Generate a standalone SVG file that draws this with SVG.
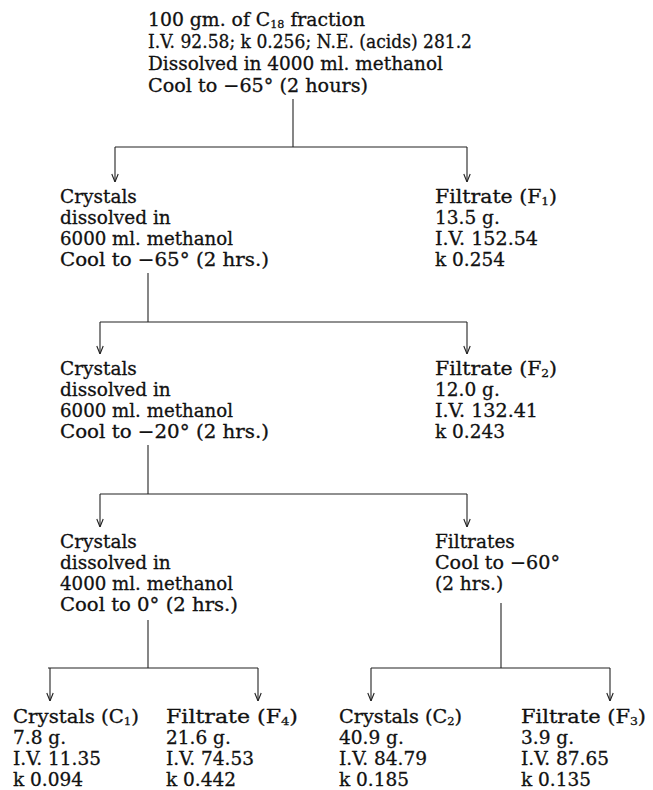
<svg xmlns="http://www.w3.org/2000/svg" width="653" height="790" viewBox="0 0 653 790">
<style>
text{font-family:"DejaVu Serif","Liberation Serif",serif;font-size:18.5px;fill:#111;stroke:#111;stroke-width:0.3}
.sub{font-size:11px}
.ln{stroke:#222;stroke-width:1.1;fill:none}
.ar{stroke:#222;stroke-width:1.1;fill:none;marker-end:url(#ah)}
</style>
<defs>
<marker id="ah" viewBox="0 0 10 10" refX="10" refY="5" markerWidth="10" markerHeight="10" markerUnits="userSpaceOnUse" orient="auto">
<path d="M2,1.8 L10,5 L2,8.2" fill="none" stroke="#222" stroke-width="1.1"/>
</marker>
</defs>
<rect width="653" height="790" fill="#fff"/>
<g id="connectors">
<line class="ln" x1="293" y1="99" x2="293" y2="147"/>
<line class="ln" x1="115" y1="147" x2="467" y2="147"/>
<line class="ar" x1="115" y1="147" x2="115" y2="182"/>
<line class="ar" x1="467" y1="147" x2="467" y2="182"/>
<line class="ln" x1="148" y1="273" x2="148" y2="322"/>
<line class="ln" x1="100" y1="322" x2="467" y2="322"/>
<line class="ar" x1="100" y1="322" x2="100" y2="354"/>
<line class="ar" x1="467" y1="322" x2="467" y2="354"/>
<line class="ln" x1="148" y1="445" x2="148" y2="494"/>
<line class="ln" x1="100" y1="494" x2="467" y2="494"/>
<line class="ar" x1="100" y1="494" x2="100" y2="527"/>
<line class="ar" x1="467" y1="494" x2="467" y2="527"/>
<line class="ln" x1="148" y1="620" x2="148" y2="668"/>
<line class="ln" x1="48" y1="668" x2="258" y2="668"/>
<line class="ar" x1="50" y1="668" x2="50" y2="701"/>
<line class="ar" x1="258" y1="668" x2="258" y2="701"/>
<line class="ln" x1="501" y1="603" x2="501" y2="668"/>
<line class="ln" x1="371" y1="668" x2="610" y2="668"/>
<line class="ar" x1="371" y1="668" x2="371" y2="701"/>
<line class="ar" x1="610" y1="668" x2="610" y2="701"/>
</g>
<g id="n-start">
<text x="148" y="26" textLength="217" lengthAdjust="spacingAndGlyphs">100 gm. of C<tspan class="sub" dy="2">18</tspan><tspan dy="-2"> fraction</tspan></text>
<text x="148" y="48" textLength="324" lengthAdjust="spacingAndGlyphs">I.V. 92.58; k 0.256; N.E. (acids) 281.2</text>
<text x="148" y="70" textLength="295" lengthAdjust="spacingAndGlyphs">Dissolved in 4000 ml. methanol</text>
<text x="148" y="92" textLength="220" lengthAdjust="spacingAndGlyphs">Cool to −65° (2 hours)</text>
</g>
<g id="n-crystals1">
<text x="60" y="203">Crystals</text>
<text x="60" y="224">dissolved in</text>
<text x="60" y="245" textLength="173" lengthAdjust="spacingAndGlyphs">6000 ml. methanol</text>
<text x="60" y="266" textLength="209" lengthAdjust="spacingAndGlyphs">Cool to −65° (2 hrs.)</text>
</g>
<g id="n-f1">
<text x="435" y="203" textLength="122" lengthAdjust="spacingAndGlyphs">Filtrate (F<tspan class="sub" dy="2">1</tspan><tspan dy="-2">)</tspan></text>
<text x="435" y="224">13.5 g.</text>
<text x="435" y="245" textLength="103" lengthAdjust="spacingAndGlyphs">I.V. 152.54</text>
<text x="435" y="266">k 0.254</text>
</g>
<g id="n-crystals2">
<text x="60" y="375">Crystals</text>
<text x="60" y="396">dissolved in</text>
<text x="60" y="417" textLength="173" lengthAdjust="spacingAndGlyphs">6000 ml. methanol</text>
<text x="60" y="438" textLength="209" lengthAdjust="spacingAndGlyphs">Cool to −20° (2 hrs.)</text>
</g>
<g id="n-f2">
<text x="435" y="375" textLength="122" lengthAdjust="spacingAndGlyphs">Filtrate (F<tspan class="sub" dy="2">2</tspan><tspan dy="-2">)</tspan></text>
<text x="435" y="396">12.0 g.</text>
<text x="435" y="417" textLength="103" lengthAdjust="spacingAndGlyphs">I.V. 132.41</text>
<text x="435" y="438">k 0.243</text>
</g>
<g id="n-crystals3">
<text x="60" y="548">Crystals</text>
<text x="60" y="569">dissolved in</text>
<text x="60" y="590" textLength="173" lengthAdjust="spacingAndGlyphs">4000 ml. methanol</text>
<text x="60" y="611" textLength="178" lengthAdjust="spacingAndGlyphs">Cool to 0° (2 hrs.)</text>
</g>
<g id="n-filtrates">
<text x="435" y="548">Filtrates</text>
<text x="435" y="569" textLength="125" lengthAdjust="spacingAndGlyphs">Cool to −60°</text>
<text x="435" y="590">(2 hrs.)</text>
</g>
<g id="n-c1">
<text x="13" y="723" textLength="126" lengthAdjust="spacingAndGlyphs">Crystals (C<tspan class="sub" dy="2">1</tspan><tspan dy="-2">)</tspan></text>
<text x="13" y="744">7.8 g.</text>
<text x="13" y="765">I.V. 11.35</text>
<text x="13" y="786">k 0.094</text>
</g>
<g id="n-f4">
<text x="166" y="723" textLength="132" lengthAdjust="spacingAndGlyphs">Filtrate (F<tspan class="sub" dy="2">4</tspan><tspan dy="-2">)</tspan></text>
<text x="166" y="744">21.6 g.</text>
<text x="166" y="765">I.V. 74.53</text>
<text x="166" y="786">k 0.442</text>
</g>
<g id="n-c2">
<text x="339" y="723" textLength="123" lengthAdjust="spacingAndGlyphs">Crystals (C<tspan class="sub" dy="2">2</tspan><tspan dy="-2">)</tspan></text>
<text x="339" y="744">40.9 g.</text>
<text x="339" y="765">I.V. 84.79</text>
<text x="339" y="786">k 0.185</text>
</g>
<g id="n-f3">
<text x="521" y="723" textLength="125" lengthAdjust="spacingAndGlyphs">Filtrate (F<tspan class="sub" dy="2">3</tspan><tspan dy="-2">)</tspan></text>
<text x="521" y="744">3.9 g.</text>
<text x="521" y="765">I.V. 87.65</text>
<text x="521" y="786">k 0.135</text>
</g>
</svg>
